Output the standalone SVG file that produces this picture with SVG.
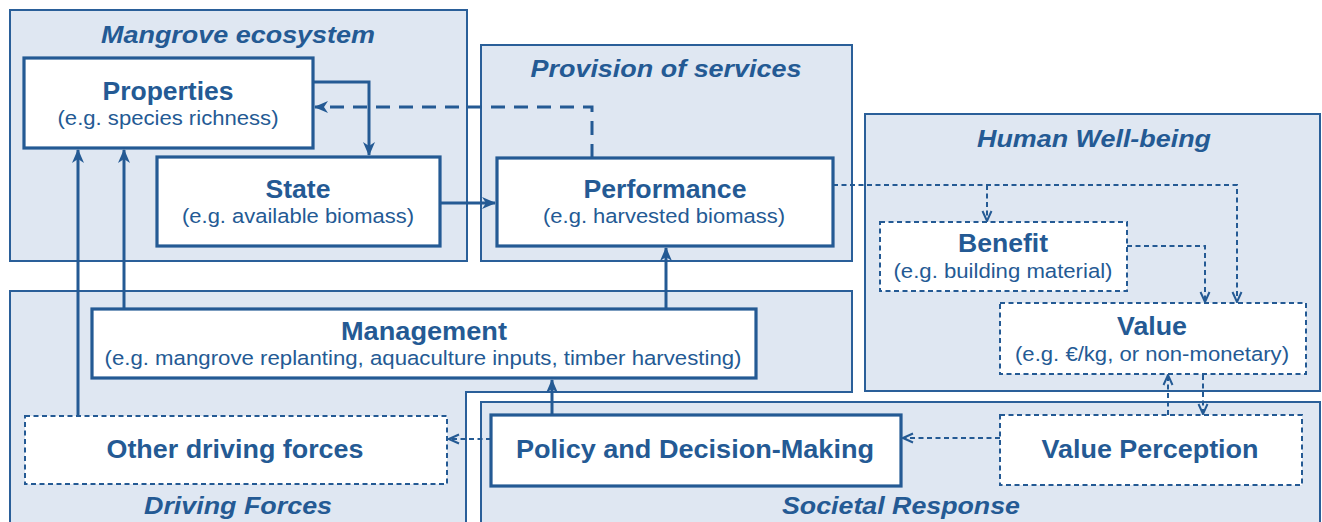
<svg xmlns="http://www.w3.org/2000/svg" width="1322" height="522" viewBox="0 0 1322 522">
<defs>
<style>
.panel{fill:#dfe7f2;stroke:#2a5f99;stroke-width:2}
.node{fill:#ffffff;stroke:#245a94;stroke-width:3.2}
.dnode{fill:#ffffff;stroke:#245a94;stroke-width:2;stroke-dasharray:5 3.5}
.ptitle{font-family:"Liberation Sans",Arial,sans-serif;font-weight:bold;font-style:italic;font-size:24px;fill:#245a94;text-anchor:middle}
.ntitle{font-family:"Liberation Sans",Arial,sans-serif;font-weight:bold;font-size:25px;fill:#245a94;text-anchor:middle}
.nsub{font-family:"Liberation Sans",Arial,sans-serif;font-size:20.5px;fill:#245a94;text-anchor:middle}
.solid{fill:none;stroke:#245a94;stroke-width:3}
.dash{fill:none;stroke:#245a94;stroke-width:3;stroke-dasharray:14 9}
.dot{fill:none;stroke:#245a94;stroke-width:2;stroke-dasharray:5 3.5}
</style>
<marker id="arrS" viewBox="0 0 14 12" refX="13" refY="6" markerWidth="14" markerHeight="12" markerUnits="userSpaceOnUse" orient="auto">
<path d="M0,0 L14,6 L0,12 L4,6 Z" fill="#245a94"/>
</marker>
<marker id="arrV" viewBox="0 0 12 12" refX="11" refY="6" markerWidth="12" markerHeight="12" markerUnits="userSpaceOnUse" orient="auto">
<path d="M1,1.5 L11,6 L1,10.5" fill="none" stroke="#245a94" stroke-width="2"/>
</marker>
</defs>

<g id="panels">
<g id="panel-mangrove"><rect class="panel" x="10" y="10" width="457" height="251"/><text class="ptitle" x="238" y="43" textLength="274" lengthAdjust="spacingAndGlyphs">Mangrove ecosystem</text></g>
<g id="panel-provision"><rect class="panel" x="481" y="45" width="371" height="216"/><text class="ptitle" x="666" y="77" textLength="271" lengthAdjust="spacingAndGlyphs">Provision of services</text></g>
<g id="panel-wellbeing"><rect class="panel" x="865" y="114" width="455" height="277"/><text class="ptitle" x="1094" y="147" textLength="234" lengthAdjust="spacingAndGlyphs">Human Well-being</text></g>
<g id="panel-driving"><path class="panel" d="M10,291 H852 V392 H466 V530 H10 Z"/><text class="ptitle" x="238" y="514" textLength="188" lengthAdjust="spacingAndGlyphs">Driving Forces</text></g>
<g id="panel-societal"><path class="panel" d="M481,402 H1320 V530 H481 Z"/><text class="ptitle" x="901" y="514" textLength="238" lengthAdjust="spacingAndGlyphs">Societal Response</text></g>
</g>

<g id="connectors">
<path class="solid" d="M313,82 H369 V155" marker-end="url(#arrS)"/>
<path class="solid" d="M440,203 H495" marker-end="url(#arrS)"/>
<path class="solid" d="M78,416 V150" marker-end="url(#arrS)"/>
<path class="solid" d="M124,308 V150" marker-end="url(#arrS)"/>
<path class="solid" d="M666,308 V248" marker-end="url(#arrS)"/>
<path class="solid" d="M552,415 V380" marker-end="url(#arrS)"/>
<path class="dash" d="M592,158 V107 H315" marker-end="url(#arrS)"/>
<path class="dot" d="M491,439 H449" marker-end="url(#arrV)"/>
<path class="dot" d="M1000,438 H903" marker-end="url(#arrV)"/>
<path class="dot" d="M833,185 H1237 V302" marker-end="url(#arrV)"/>
<path class="dot" d="M987,185 V221" marker-end="url(#arrV)"/>
<path class="dot" d="M1127,246 H1205 V302" marker-end="url(#arrV)"/>
<path class="dot" d="M1168,415 V375" marker-end="url(#arrV)"/>
<path class="dot" d="M1203,375 V414" marker-end="url(#arrV)"/>
</g>

<g id="properties"><rect class="node" x="24" y="58" width="289" height="90"/><text class="ntitle" x="168" y="100" textLength="131" lengthAdjust="spacingAndGlyphs">Properties</text><text class="nsub" x="168" y="125" textLength="221" lengthAdjust="spacingAndGlyphs">(e.g. species richness)</text></g>
<g id="state"><rect class="node" x="157" y="157" width="283" height="89"/><text class="ntitle" x="298" y="198" textLength="65" lengthAdjust="spacingAndGlyphs">State</text><text class="nsub" x="298" y="223" textLength="232" lengthAdjust="spacingAndGlyphs">(e.g. available biomass)</text></g>
<g id="performance"><rect class="node" x="497" y="158" width="336" height="88"/><text class="ntitle" x="665" y="198" textLength="163" lengthAdjust="spacingAndGlyphs">Performance</text><text class="nsub" x="664" y="223" textLength="242" lengthAdjust="spacingAndGlyphs">(e.g. harvested biomass)</text></g>
<g id="benefit"><rect class="dnode" x="880" y="222" width="247" height="69"/><text class="ntitle" x="1003" y="252" textLength="90" lengthAdjust="spacingAndGlyphs">Benefit</text><text class="nsub" x="1003" y="278" textLength="219" lengthAdjust="spacingAndGlyphs">(e.g. building material)</text></g>
<g id="value"><rect class="dnode" x="1000" y="303" width="306" height="71"/><text class="ntitle" x="1152" y="335" textLength="70" lengthAdjust="spacingAndGlyphs">Value</text><text class="nsub" x="1152" y="361" textLength="274" lengthAdjust="spacingAndGlyphs">(e.g. €/kg, or non-monetary)</text></g>
<g id="management"><rect class="node" x="92" y="309" width="664" height="69"/><text class="ntitle" x="424" y="340" textLength="166" lengthAdjust="spacingAndGlyphs">Management</text><text class="nsub" x="423" y="365" textLength="637" lengthAdjust="spacingAndGlyphs">(e.g. mangrove replanting, aquaculture inputs, timber harvesting)</text></g>
<g id="other-driving-forces"><rect class="dnode" x="25" y="416" width="422" height="68"/><text class="ntitle" x="235" y="458" textLength="257" lengthAdjust="spacingAndGlyphs">Other driving forces</text></g>
<g id="policy"><rect class="node" x="491" y="415" width="410" height="71"/><text class="ntitle" x="695" y="458" textLength="358" lengthAdjust="spacingAndGlyphs">Policy and Decision-Making</text></g>
<g id="value-perception"><rect class="dnode" x="1000" y="415" width="302" height="70"/><text class="ntitle" x="1150" y="458" textLength="217" lengthAdjust="spacingAndGlyphs">Value Perception</text></g>
</svg>
